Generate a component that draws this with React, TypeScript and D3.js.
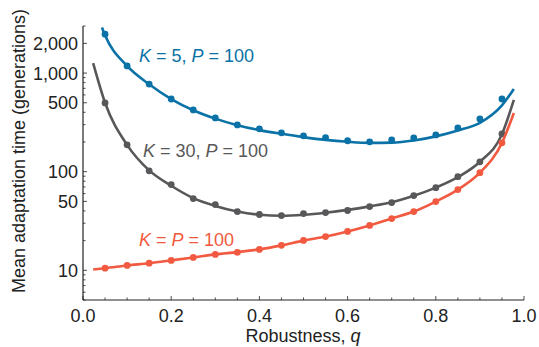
import React from "react";
import * as d3 from "d3";

const qPoints = [0.05, 0.1, 0.15, 0.2, 0.25, 0.3, 0.35, 0.4, 0.45, 0.5, 0.55, 0.6, 0.65, 0.7, 0.75, 0.8, 0.85, 0.9, 0.95];
const blueValues = [2480, 1180, 774, 546, 423, 351, 298, 272, 248, 231, 221, 206, 201, 210, 220, 236, 278, 343, 546];
const greyValues = [498, 187, 102, 74, 53.4, 46.4, 39.4, 36.8, 35.9, 37.6, 38.5, 40.4, 44.3, 48.6, 57.2, 68.9, 89, 126, 242];
const redValues = [10.5, 11.2, 11.8, 12.6, 13.5, 14.5, 15.2, 16.3, 17.9, 20.1, 22, 24.8, 28.5, 33.5, 39.4, 49.8, 65.8, 97.7, 196];

const blueCurveQ = [0.043, 0.05, 0.1, 0.15, 0.2, 0.25, 0.3, 0.35, 0.4, 0.45, 0.5, 0.55, 0.6, 0.65, 0.7, 0.75, 0.8, 0.85, 0.9, 0.95, 0.977];
const blueCurveV = [2900, 2420, 1180, 770, 545, 420, 345, 296, 264, 242, 224, 210, 201, 196, 197, 207, 228, 262, 313, 470, 690];
const greyCurveQ = [0.023, 0.05, 0.1, 0.15, 0.2, 0.25, 0.3, 0.35, 0.4, 0.45, 0.5, 0.55, 0.6, 0.65, 0.7, 0.75, 0.8, 0.85, 0.9, 0.95, 0.977];
const greyCurveV = [1260, 500, 187, 103, 72, 54, 45, 39.5, 36.6, 35.8, 36.6, 38.4, 41, 44.5, 49, 57, 69, 88, 126, 240, 534];
const redCurveQ = [0.023, 0.05, 0.1, 0.15, 0.2, 0.25, 0.3, 0.35, 0.4, 0.45, 0.5, 0.55, 0.6, 0.65, 0.7, 0.75, 0.8, 0.85, 0.9, 0.95, 0.977];
const redCurveV = [10.2, 10.5, 11.2, 11.8, 12.6, 13.5, 14.5, 15.3, 16.3, 17.9, 20, 22, 24.8, 28.5, 33.5, 39.4, 49.8, 65.8, 97.7, 196, 394];

const xTickValues = [0, 0.2, 0.4, 0.6, 0.8, 1.0];
const yTickValues = [10, 50, 100, 500, 1000, 2000];
const yTickLabels = ["10", "50", "100", "500", "1,000", "2,000"];

const BLUE = "#0a72a6";
const GREY = "#58585a";
const RED = "#f15a40";
const FONT = "'Liberation Sans', Arial, Helvetica, sans-serif";
const FS = 18;

export default function App() {
  const W = 539, H = 347;
  const x = d3.scaleLinear().domain([0, 1]).range([83, 524]);
  const y = d3.scaleLog().domain([5, 3000]).range([300, 26]);

  const line = d3.line<[number, number]>()
    .x((d) => x(d[0]))
    .y((d) => y(d[1]))
    .curve(d3.curveMonotoneX);

  const series = [
    { color: BLUE, cq: blueCurveQ, cv: blueCurveV, pv: blueValues },
    { color: GREY, cq: greyCurveQ, cv: greyCurveV, pv: greyValues },
    { color: RED, cq: redCurveQ, cv: redCurveV, pv: redValues },
  ];

  const xMinor = d3.range(0, 21).map((i) => i * 0.05);
  const yMinor: number[] = [];
  [1, 10, 100, 1000].forEach((dec) => {
    for (let m = 1; m <= 9; m++) {
      const v = m * dec;
      if (v >= 5 && v <= 3000) yMinor.push(v);
    }
  });

  return (
    <svg width={W} height={H} style={{ position: "absolute", left: 0, top: 0 }} fontFamily={FONT}>
      <rect width={W} height={H} fill="#fff" />
      {/* axes */}
      <line x1={x(0)} x2={x(0)} y1={y(3000)} y2={y(5)} stroke="#222" strokeWidth={1.2} />
      <line x1={x(0)} x2={x(1)} y1={y(5)} y2={y(5)} stroke="#222" strokeWidth={1.2} />
      {xMinor.map((t, i) => (
        <line key={"xm" + i} x1={x(t)} x2={x(t)} y1={y(5)} y2={y(5) - (i % 4 === 0 ? 4 : 2.5)} stroke="#222" strokeWidth={0.8} />
      ))}
      {yMinor.map((t, i) => (
        <line key={"ym" + i} x1={x(0)} x2={x(0) + (yTickValues.includes(t) ? 4 : 2.5)} y1={y(t)} y2={y(t)} stroke="#222" strokeWidth={0.8} />
      ))}
      {xTickValues.map((t) => (
        <text key={"xt" + t} x={x(t)} y={322} textAnchor="middle" fontSize={FS} fill="#222">
          {t.toFixed(1)}
        </text>
      ))}
      {yTickValues.map((t, i) => (
        <text key={"yt" + t} x={78} y={y(t) + 6.5} textAnchor="end" fontSize={FS} fill="#222">
          {yTickLabels[i]}
        </text>
      ))}
      <text x={303} y={342} textAnchor="middle" fontSize={FS} fill="#222">
        Robustness, <tspan fontStyle="italic">q</tspan>
      </text>
      <text transform="translate(25,151) rotate(-90)" textAnchor="middle" fontSize={FS} fill="#222">
        Mean adaptation time (generations)
      </text>
      {/* series */}
      {series.map((s, si) => (
        <g key={"s" + si}>
          <path d={line(s.cq.map((q, i) => [q, s.cv[i]] as [number, number])) || ""} fill="none" stroke={s.color} strokeWidth={2.6} />
          {qPoints.map((q, i) => (
            <circle key={i} cx={x(q)} cy={y(s.pv[i])} r={3.4} fill={s.color} />
          ))}
        </g>
      ))}
      {/* annotations */}
      <text x={139} y={62} fontSize={FS} fill={BLUE}>
        <tspan fontStyle="italic">K</tspan> = 5, <tspan fontStyle="italic">P</tspan> = 100
      </text>
      <text x={143} y={157} fontSize={FS} fill={GREY}>
        <tspan fontStyle="italic">K</tspan> = 30, <tspan fontStyle="italic">P</tspan> = 100
      </text>
      <text x={139} y={246} fontSize={FS} fill={RED}>
        <tspan fontStyle="italic">K</tspan> = <tspan fontStyle="italic">P</tspan> = 100
      </text>
    </svg>
  );
}
